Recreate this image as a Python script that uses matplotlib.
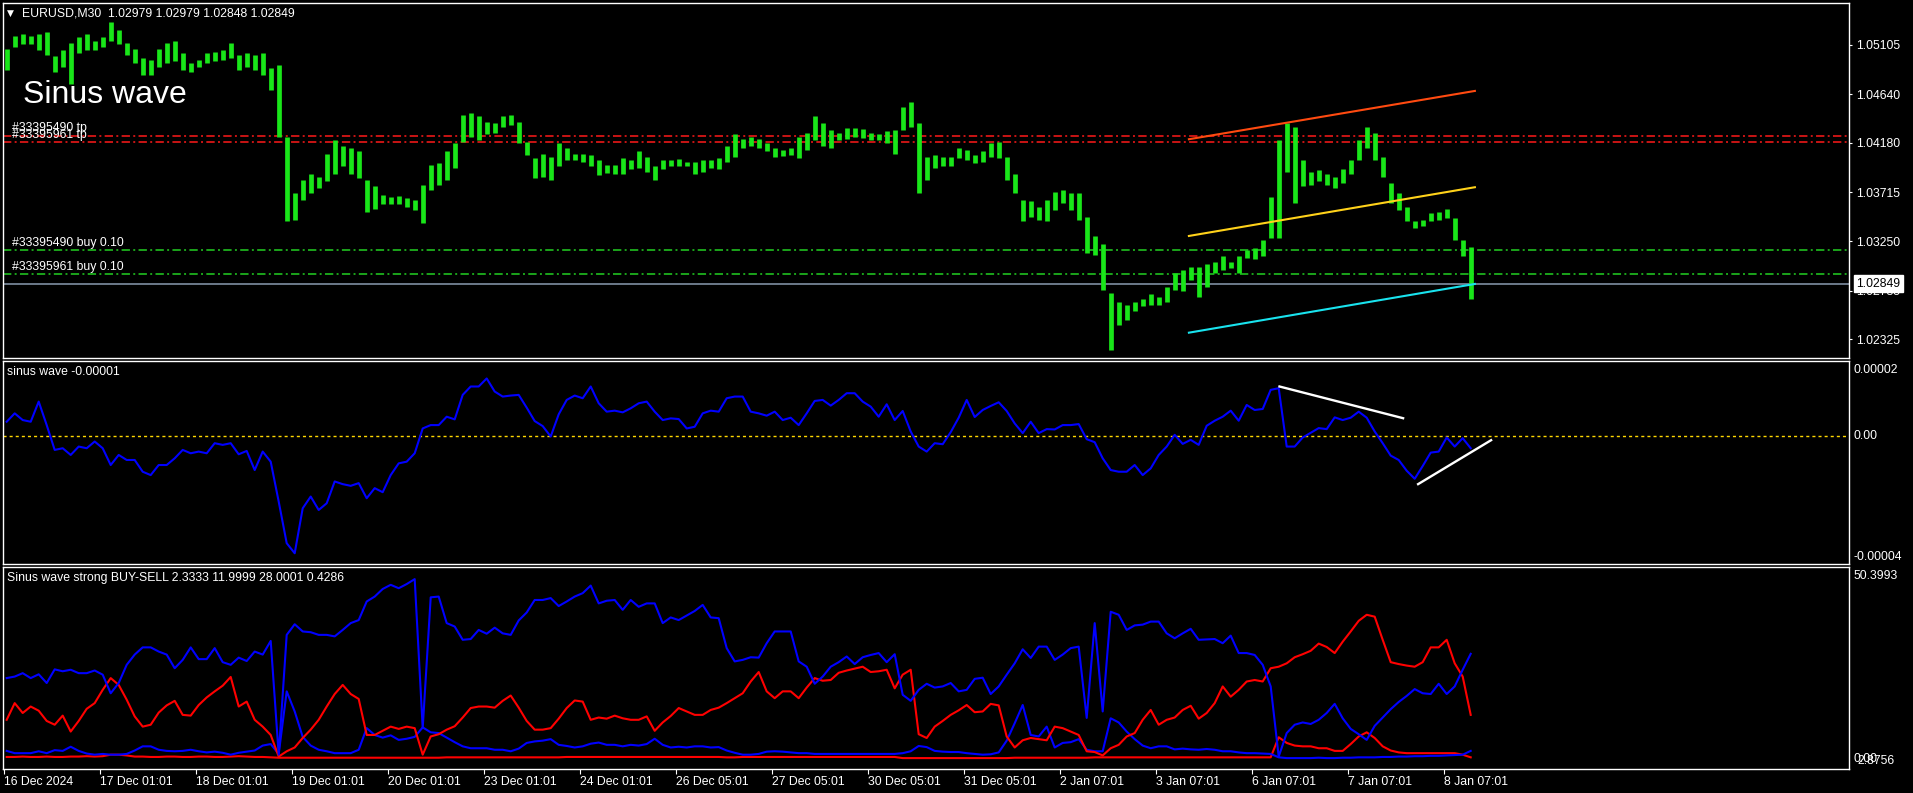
import numpy as np
import matplotlib
matplotlib.use("Agg")
import matplotlib.pyplot as plt
from matplotlib.transforms import blended_transform_factory

plt.rcParams['font.family'] = ['Liberation Sans', 'DejaVu Sans']
plt.rcParams['lines.scale_dashes'] = False

# ---------------- data ----------------
BAR_STEP = 4          # M30 bars per stored sample
BARS_PER_LABEL = 48   # one date label per trading day

DATE_LABELS = ["16 Dec 2024", "17 Dec 01:01", "18 Dec 01:01", "19 Dec 01:01", "20 Dec 01:01",
               "23 Dec 01:01", "24 Dec 01:01", "26 Dec 05:01", "27 Dec 05:01", "30 Dec 05:01",
               "31 Dec 05:01", "2 Jan 07:01", "3 Jan 07:01", "6 Jan 07:01", "7 Jan 07:01", "8 Jan 07:01"]

PRICE_TICKS = [1.05105, 1.04640, 1.04180, 1.03715, 1.03250, 1.02785, 1.02325]

HIGH = [
 1.0507, 1.0519, 1.0521, 1.0519, 1.0521, 1.0523, 1.0500, 1.0506, 1.0512, 1.0518,
 1.0521, 1.0514, 1.0518, 1.0532, 1.0525, 1.0512, 1.0507, 1.0498, 1.0496, 1.0507,
 1.0512, 1.0514, 1.0503, 1.0493, 1.0496, 1.0503, 1.0504, 1.0506, 1.0512, 1.0501,
 1.0503, 1.0501, 1.0503, 1.0489, 1.0492, 1.0424, 1.0371, 1.0383, 1.0389, 1.0386,
 1.0408, 1.0421, 1.0415, 1.0413, 1.0410, 1.0383, 1.0377, 1.0369, 1.0367, 1.0368,
 1.0366, 1.0364, 1.0378, 1.0397, 1.0399, 1.0410, 1.0418, 1.0444, 1.0446, 1.0443,
 1.0438, 1.0437, 1.0443, 1.0444, 1.0438, 1.0419, 1.0404, 1.0408, 1.0405, 1.0418,
 1.0413, 1.0408, 1.0408, 1.0407, 1.0402, 1.0397, 1.0397, 1.0404, 1.0402, 1.0410,
 1.0405, 1.0396, 1.0402, 1.0402, 1.0403, 1.0400, 1.0400, 1.0402, 1.0402, 1.0404,
 1.0415, 1.0426, 1.0422, 1.0424, 1.0422, 1.0418, 1.0413, 1.0411, 1.0413, 1.0424,
 1.0427, 1.0443, 1.0437, 1.0430, 1.0427, 1.0432, 1.0432, 1.0431, 1.0427, 1.0426,
 1.0429, 1.0430, 1.0452, 1.0457, 1.0437, 1.0405, 1.0407, 1.0405, 1.0405, 1.0413,
 1.0411, 1.0407, 1.0410, 1.0418, 1.0419, 1.0405, 1.0389, 1.0364, 1.0363, 1.0358,
 1.0364, 1.0372, 1.0374, 1.0371, 1.0371, 1.0348, 1.0330, 1.0323, 1.0276, 1.0268,
 1.0265, 1.0268, 1.0271, 1.0275, 1.0273, 1.0282, 1.0295, 1.0298, 1.0301, 1.0301,
 1.0304, 1.0306, 1.0311, 1.0306, 1.0311, 1.0317, 1.0319, 1.0326, 1.0367, 1.0421,
 1.0437, 1.0433, 1.0402, 1.0391, 1.0392, 1.0389, 1.0386, 1.0393, 1.0402, 1.0421,
 1.0433, 1.0427, 1.0405, 1.0380, 1.0371, 1.0358, 1.0344, 1.0345, 1.0352, 1.0353,
 1.0356, 1.0347, 1.0326, 1.0320]

LOW = [
 1.0487, 1.0509, 1.0511, 1.0511, 1.0506, 1.0501, 1.0485, 1.0490, 1.0474, 1.0503,
 1.0506, 1.0506, 1.0509, 1.0514, 1.0511, 1.0501, 1.0493, 1.0482, 1.0482, 1.0490,
 1.0493, 1.0495, 1.0487, 1.0485, 1.0490, 1.0493, 1.0495, 1.0496, 1.0498, 1.0487,
 1.0490, 1.0487, 1.0482, 1.0468, 1.0424, 1.0344, 1.0345, 1.0364, 1.0371, 1.0375,
 1.0382, 1.0389, 1.0396, 1.0389, 1.0385, 1.0353, 1.0356, 1.0360, 1.0360, 1.0360,
 1.0358, 1.0355, 1.0342, 1.0374, 1.0378, 1.0383, 1.0394, 1.0419, 1.0424, 1.0421,
 1.0426, 1.0427, 1.0433, 1.0435, 1.0418, 1.0407, 1.0385, 1.0386, 1.0383, 1.0396,
 1.0402, 1.0402, 1.0400, 1.0396, 1.0388, 1.0390, 1.0389, 1.0389, 1.0393, 1.0394,
 1.0391, 1.0383, 1.0393, 1.0396, 1.0396, 1.0396, 1.0389, 1.0391, 1.0394, 1.0393,
 1.0400, 1.0405, 1.0413, 1.0415, 1.0413, 1.0410, 1.0405, 1.0406, 1.0407, 1.0404,
 1.0411, 1.0421, 1.0415, 1.0413, 1.0421, 1.0422, 1.0424, 1.0423, 1.0421, 1.0421,
 1.0418, 1.0408, 1.0430, 1.0433, 1.0371, 1.0383, 1.0394, 1.0396, 1.0396, 1.0404,
 1.0402, 1.0399, 1.0400, 1.0405, 1.0404, 1.0383, 1.0371, 1.0344, 1.0348, 1.0345,
 1.0344, 1.0355, 1.0361, 1.0355, 1.0345, 1.0314, 1.0312, 1.0279, 1.0223, 1.0246,
 1.0251, 1.0259, 1.0264, 1.0265, 1.0265, 1.0268, 1.0279, 1.0278, 1.0289, 1.0273,
 1.0282, 1.0295, 1.0298, 1.0300, 1.0295, 1.0309, 1.0308, 1.0311, 1.0328, 1.0328,
 1.0391, 1.0361, 1.0377, 1.0378, 1.0382, 1.0378, 1.0375, 1.0380, 1.0389, 1.0402,
 1.0413, 1.0402, 1.0386, 1.0361, 1.0355, 1.0344, 1.0338, 1.0340, 1.0344, 1.0345,
 1.0347, 1.0326, 1.0311, 1.0271]

BID = 1.02849
TP_LEVELS = [1.04249, 1.04186]
TP_LABELS = ["#33395490 tp", "#33395961 tp"]
BUY_LEVELS = [1.03167, 1.02940]
BUY_LABELS = ["#33395490 buy 0.10", "#33395961 buy 0.10"]

CHANNEL_BARS = [592.6, 735.6]
CHANNEL_TOP = [1.04215, 1.04671]
CHANNEL_MID = [1.03302, 1.03762]
CHANNEL_LOW = [1.02389, 1.02849]

# sinus wave (units of 1e-6)
SINUS = [
 4.4, 6.9, 4.9, 4.4, 10.4, 3.4, -4.0, -3.5, -5.5, -3.0,
 -3.5, -1.5, -3.5, -8.5, -5.5, -7.0, -7.0, -10.5, -11.5, -8.5,
 -8.5, -6.5, -4.0, -5.0, -4.5, -5.0, -2.0, -2.5, -2.0, -5.3,
 -4.3, -10.0, -4.5, -7.5, -19.4, -31.8, -34.8, -21.4, -17.9, -21.9,
 -19.9, -13.4, -14.2, -14.7, -13.9, -18.4, -15.4, -16.6, -11.5, -8.0,
 -7.5, -5.0, 2.4, 3.4, 3.4, 5.9, 5.1, 12.4, 14.9, 14.9,
 17.3, 13.4, 11.9, 12.2, 12.4, 8.6, 4.6, 3.1, 0.0, 6.6,
 10.9, 12.2, 11.4, 14.9, 9.9, 7.4, 7.7, 7.2, 8.4, 9.9,
 10.4, 7.4, 4.9, 5.4, 5.2, 2.4, 2.9, 6.9, 7.7, 7.4,
 11.4, 11.9, 11.9, 7.4, 6.9, 6.2, 7.4, 4.9, 5.6, 3.4,
 6.9, 10.6, 10.9, 9.2, 10.9, 12.9, 12.9, 10.4, 8.9, 5.9,
 9.6, 4.9, 7.6, 1.5, -3.0, -4.5, -2.0, -2.3, 1.3, 5.6,
 10.9, 5.8, 7.9, 9.1, 10.2, 7.6, 3.9, 1.0, 4.4, 1.0,
 2.2, 2.1, 3.4, 3.4, 3.7, -0.8, -1.7, -6.5, -10.0, -10.5,
 -10.5, -8.5, -11.5, -9.5, -5.5, -3.0, 0.5, -2.2, -1.0, -2.5,
 3.2, 4.7, 5.9, 7.7, 4.7, 9.4, 7.9, 8.2, 13.9, 14.4,
 -3.0, -3.0, -0.3, 1.1, 2.5, 2.2, 5.7, 4.9, 5.6, 7.4,
 5.6, 1.5, -2.0, -5.7, -7.0, -10.2, -12.6, -8.8, -4.8, -4.5,
 -0.3, -3.0, -0.5, -3.5]
SINUS_LIMITS = [-38.0, 22.5]
TREND1_BARS = [637.9, 699.7]
TREND1_VALS = [14.9, 5.45]
TREND2_BARS = [707.2, 743.7]
TREND2_VALS = [-14.2, -1.1]

# Sinus wave strong BUY-SELL
BLUE_HI = [
 21.1, 21.5, 22.4, 21.1, 22.1, 19.8, 23.4, 22.9, 23.3, 22.4,
 22.4, 23.1, 22.0, 17.1, 19.8, 24.6, 27.3, 29.2, 29.2, 28.1,
 27.3, 23.7, 25.9, 29.2, 26.1, 26.1, 29.0, 25.3, 24.6, 26.5,
 25.6, 28.1, 27.3, 30.9, 0.9, 32.5, 35.3, 33.4, 33.2, 32.5,
 32.5, 32.1, 33.8, 35.6, 36.4, 41.3, 42.6, 44.6, 45.7, 44.8,
 45.9, 47.2, 7.9, 42.4, 42.6, 35.6, 34.7, 31.2, 31.4, 33.8,
 32.8, 34.4, 32.9, 32.5, 36.3, 38.4, 41.7, 41.7, 42.2, 40.1,
 41.3, 42.6, 43.5, 45.5, 40.8, 41.5, 41.7, 39.1, 41.7, 39.9,
 40.8, 40.8, 35.6, 37.1, 36.4, 37.6, 38.8, 40.4, 37.1, 36.9,
 29.0, 25.5, 25.9, 26.6, 26.5, 30.3, 33.4, 33.4, 33.4, 25.5,
 24.1, 19.6, 21.5, 24.1, 25.3, 26.8, 24.8, 26.6, 27.2, 27.7,
 25.3, 27.4, 16.7, 15.1, 18.0, 19.6, 18.6, 18.9, 19.8, 17.6,
 18.0, 20.9, 21.2, 16.9, 18.9, 22.0, 25.0, 28.7, 26.4, 29.4,
 29.4, 25.9, 27.3, 29.0, 29.4, 10.6, 35.6, 12.3, 38.6, 37.8,
 33.8, 35.0, 35.2, 36.0, 36.0, 32.9, 31.6, 32.9, 34.1, 31.2,
 31.3, 31.4, 30.3, 32.3, 27.7, 27.7, 27.2, 24.6, 18.9, 0.4,
 6.6, 8.8, 9.4, 9.0, 10.1, 11.9, 14.3, 10.5, 7.7, 6.3,
 4.8, 8.5, 10.7, 12.9, 14.8, 16.4, 18.2, 17.1, 16.9, 19.6,
 16.9, 18.9, 23.3, 27.5]

RED_HI = [
 10.1, 14.5, 11.9, 13.6, 12.5, 9.8, 8.8, 11.2, 7.0, 9.8,
 13.0, 14.5, 18.0, 21.1, 19.3, 15.4, 11.0, 8.3, 8.8, 12.0,
 13.9, 15.1, 11.4, 11.2, 14.0, 16.0, 17.6, 19.1, 21.4, 13.6,
 14.9, 10.1, 8.3, 6.1, 0.4, 1.8, 2.8, 5.3, 7.5, 10.1,
 13.6, 16.9, 19.3, 16.9, 15.6, 6.1, 6.1, 7.2, 8.3, 7.7,
 8.3, 7.9, 0.9, 5.7, 6.3, 7.5, 8.4, 10.7, 13.2, 13.6,
 13.6, 13.3, 15.1, 16.5, 13.3, 9.8, 7.5, 7.5, 7.9, 10.4,
 13.2, 15.2, 14.9, 10.1, 10.7, 10.4, 11.2, 10.5, 10.1, 10.1,
 11.0, 7.2, 9.4, 11.1, 13.2, 12.3, 11.4, 11.4, 12.7, 13.3,
 14.5, 15.8, 17.1, 20.2, 22.7, 17.6, 15.8, 17.6, 17.6, 15.8,
 18.6, 21.1, 20.4, 20.6, 22.5, 23.1, 23.6, 24.1, 22.7, 22.9,
 23.3, 18.4, 22.0, 23.3, 6.3, 5.3, 8.3, 9.8, 11.4, 12.6,
 14.0, 12.1, 12.3, 14.3, 13.9, 5.7, 2.8, 4.7, 5.3, 5.0,
 4.7, 8.3, 7.9, 7.0, 6.1, 1.8, 1.6, 0.7, 2.6, 3.5,
 5.7, 6.6, 10.1, 12.7, 8.8, 10.1, 10.7, 12.7, 13.8, 10.4,
 11.9, 14.5, 18.9, 16.2, 18.0, 20.2, 20.6, 20.2, 23.7, 24.1,
 25.0, 26.6, 27.4, 28.3, 30.2, 29.3, 27.7, 30.7, 33.4, 36.2,
 37.8, 37.3, 31.2, 25.3, 24.8, 24.4, 24.1, 25.3, 29.2, 29.2,
 31.2, 25.0, 21.5, 11.4]

BLUE_LO = [
 1.9, 1.3, 1.3, 1.3, 1.8, 1.3, 2.1, 1.9, 3.0, 1.9,
 1.2, 0.9, 1.1, 0.9, 0.9, 1.1, 2.0, 3.1, 3.1, 2.2,
 1.9, 1.8, 1.9, 2.2, 1.8, 1.5, 1.7, 1.4, 0.9, 1.4,
 1.7, 2.0, 3.3, 3.7, 1.1, 17.6, 12.3, 5.6, 3.3, 2.2,
 1.8, 1.3, 1.3, 1.3, 2.2, 7.9, 6.1, 5.4, 6.0, 4.8,
 5.1, 5.6, 8.1, 6.8, 6.6, 5.4, 4.2, 3.1, 2.6, 2.6,
 2.6, 2.2, 2.2, 1.8, 2.5, 4.0, 4.4, 4.6, 5.0, 3.5,
 3.2, 2.8, 3.1, 3.8, 4.1, 3.5, 3.5, 3.1, 3.5, 3.3,
 3.7, 5.1, 3.5, 2.8, 3.0, 2.8, 3.1, 3.1, 2.8, 2.9,
 2.0, 1.4, 0.9, 0.9, 1.1, 1.7, 1.8, 1.7, 1.5, 1.3,
 1.3, 1.1, 1.1, 1.1, 1.1, 1.1, 1.1, 1.1, 1.1, 1.1,
 1.1, 1.1, 1.3, 1.8, 3.2, 2.9, 1.9, 1.7, 1.6, 1.6,
 1.3, 1.1, 0.9, 1.0, 1.5, 4.6, 9.2, 14.0, 6.1, 5.7,
 8.3, 2.8, 4.0, 4.2, 5.0, 2.2, 1.8, 1.8, 10.5, 9.4,
 7.0, 5.0, 3.3, 2.6, 3.1, 3.1, 2.3, 2.5, 2.3, 2.2,
 2.4, 2.2, 1.8, 1.8, 1.5, 1.3, 1.3, 1.2, 1.1, 0.2,
 0.0, 0.0, 0.0, 0.0, 0.1, 0.0, 0.0, 0.1, 0.1, 0.2,
 0.2, 0.2, 0.3, 0.3, 0.4, 0.4, 0.5, 0.5, 0.6, 0.6,
 0.7, 0.8, 0.9, 1.9]

RED_LO = [
 0.3, 0.3, 0.4, 0.3, 0.3, 0.4, 0.3, 0.3, 0.4, 0.4,
 0.5, 0.4, 0.5, 0.9, 0.9, 0.7, 0.4, 0.4, 0.3, 0.3,
 0.4, 0.4, 0.3, 0.3, 0.4, 0.4, 0.3, 0.3, 0.4, 0.5,
 0.4, 0.3, 0.3, 0.2, 0.1, 0.1, 0.1, 0.1, 0.1, 0.1,
 0.1, 0.1, 0.1, 0.1, 0.1, 0.1, 0.1, 0.1, 0.1, 0.1,
 0.1, 0.1, 0.1, 0.1, 0.1, 0.2, 0.2, 0.2, 0.2, 0.2,
 0.2, 0.2, 0.2, 0.2, 0.2, 0.2, 0.2, 0.2, 0.2, 0.2,
 0.3, 0.3, 0.3, 0.3, 0.3, 0.3, 0.3, 0.3, 0.3, 0.3,
 0.3, 0.3, 0.3, 0.3, 0.3, 0.3, 0.3, 0.3, 0.3, 0.3,
 0.2, 0.2, 0.3, 0.3, 0.3, 0.3, 0.3, 0.3, 0.3, 0.3,
 0.3, 0.3, 0.3, 0.3, 0.3, 0.3, 0.3, 0.3, 0.3, 0.3,
 0.3, 0.3, 0.0, 0.0, 0.0, 0.0, 0.0, 0.0, 0.0, 0.0,
 0.0, 0.0, 0.0, 0.0, 0.0, 0.0, 0.1, 0.1, 0.1, 0.1,
 0.1, 0.1, 0.1, 0.1, 0.1, 0.1, 0.2, 0.2, 0.2, 0.2,
 0.2, 0.2, 0.2, 0.2, 0.2, 0.2, 0.2, 0.2, 0.2, 0.2,
 0.2, 0.2, 0.2, 0.2, 0.2, 0.2, 0.2, 0.2, 0.2, 5.5,
 4.0, 3.3, 3.1, 3.1, 2.6, 2.6, 1.9, 1.9, 3.7, 5.7,
 6.8, 5.3, 3.1, 2.0, 1.5, 1.3, 1.3, 1.3, 1.3, 1.3,
 1.3, 1.3, 0.9, 0.2]
STRONG_LIMITS = [-2.8756, 50.3993]

# ---------------- layout ----------------
W, H = 1913, 793
fig = plt.figure(figsize=(W / 100, H / 100), dpi=100, facecolor='black')
FS = 8.85
WHITE = 'white'


def box(x0, y0, x1, y1):
    return [x0 / W, 1 - y1 / H, (x1 - x0) / W, (y1 - y0) / H]


def fpos(x, y):
    return x / W, 1 - y / H


ax1 = fig.add_axes(box(3, 3, 1849, 358))
ax2 = fig.add_axes(box(3, 361, 1849, 564), sharex=ax1)
ax3 = fig.add_axes(box(3, 567, 1849, 769), sharex=ax1)
for ax in (ax1, ax2, ax3):
    ax.set_facecolor('black')
    for s in ax.spines.values():
        s.set_color(WHITE)
        s.set_linewidth(1.0)
    ax.tick_params(axis='x', which='both', bottom=False, labelbottom=False)
    ax.tick_params(axis='y', which='both', left=False, labelleft=False, right=False, labelright=False)

ax1.set_xlim(-0.35, 922.65)

# ---------------- price panel ----------------
xb = BAR_STEP * np.arange(len(HIGH)) + 1.5
ax1.vlines(xb, LOW, HIGH, color='#19e619', linewidth=3.4, zorder=3)
ax1.set_ylim(1.02150, 1.05501)

blend1 = blended_transform_factory(ax1.transAxes, ax1.transData)
for lvl, lab in zip(TP_LEVELS, TP_LABELS):
    ax1.axhline(lvl, color='#ff1a1a', linewidth=1.1, dashes=(6.0, 2.4, 1.4, 2.4), zorder=2)
    ax1.annotate(lab, xy=(0, lvl), xycoords=blend1, xytext=(6.5, 1.2), textcoords='offset points',
                 color=WHITE, fontsize=FS, va='bottom', ha='left', zorder=4)
for lvl, lab in zip(BUY_LEVELS, BUY_LABELS):
    ax1.axhline(lvl, color='#22d022', linewidth=1.1, dashes=(6.0, 2.4, 1.4, 2.4), zorder=2)
    ax1.annotate(lab, xy=(0, lvl), xycoords=blend1, xytext=(6.5, 1.2), textcoords='offset points',
                 color=WHITE, fontsize=FS, va='bottom', ha='left', zorder=4)
ax1.axhline(BID, color='#8a9bb0', linewidth=1.1, zorder=2)

ax1.plot(CHANNEL_BARS, CHANNEL_TOP, color='#ff4a10', linewidth=1.5, zorder=5)
ax1.plot(CHANNEL_BARS, CHANNEL_MID, color='#ffd21a', linewidth=1.5, zorder=5)
ax1.plot(CHANNEL_BARS, CHANNEL_LOW, color='#19e3ee', linewidth=1.5, zorder=5)

ax1.yaxis.tick_right()
ax1.set_yticks(PRICE_TICKS)
ax1.set_yticklabels([f"{v:.5f}" for v in PRICE_TICKS])
ax1.tick_params(axis='y', which='both', right=True, labelright=True, colors=WHITE,
                length=2.5, width=0.8, pad=2.5, labelsize=FS)
ax1.annotate(f"{BID:.5f}", xy=(1, BID), xycoords=blend1, xytext=(5.2, 0), textcoords='offset points',
             color='black', fontsize=FS, va='center', ha='left', annotation_clip=False, zorder=20,
             bbox=dict(boxstyle='square,pad=0.2', facecolor=WHITE, edgecolor=WHITE))

# ---------------- sinus wave panel ----------------
xs = BAR_STEP * np.arange(len(SINUS)) + 1.5
ax2.axhline(0, color='#ffd700', linewidth=1.0, dashes=(2.2, 2.2), zorder=1)
ax2.plot(xs, SINUS, color='#0000ff', linewidth=1.5, zorder=3)
ax2.plot(TREND1_BARS, TREND1_VALS, color=WHITE, linewidth=1.7, zorder=4)
ax2.plot(TREND2_BARS, TREND2_VALS, color=WHITE, linewidth=1.7, zorder=4)
ax2.set_ylim(*SINUS_LIMITS)

# ---------------- strong BUY-SELL panel ----------------
xa = BAR_STEP * np.arange(len(BLUE_HI)) + 1.5
ax3.plot(BAR_STEP * np.arange(len(RED_LO)) + 1.5, RED_LO, color='#ff0000', linewidth=1.5, zorder=2)
ax3.plot(BAR_STEP * np.arange(len(BLUE_LO)) + 1.5, BLUE_LO, color='#0000ff', linewidth=1.5, zorder=3)
ax3.plot(BAR_STEP * np.arange(len(RED_HI)) + 1.5, RED_HI, color='#ff0000', linewidth=1.5, zorder=3)
ax3.plot(xa, BLUE_HI, color='#0000ff', linewidth=1.5, zorder=4)
ax3.set_ylim(*STRONG_LIMITS)

ticks = BARS_PER_LABEL * np.arange(len(DATE_LABELS))
ax3.set_xticks(ticks)
ax3.set_xticklabels(DATE_LABELS)
ax3.tick_params(axis='x', which='both', bottom=True, labelbottom=True, colors=WHITE,
                length=3.5, width=0.8, pad=1.5, labelsize=FS, direction='out')
for t in ax3.get_xticklabels():
    t.set_horizontalalignment('left')

# ---------------- texts ----------------
fig.text(*fpos(7, 15.5), "\u25BC", color=WHITE, fontsize=6.5, va='baseline', ha='left',
         family=['DejaVu Sans'])
fig.text(*fpos(22, 17), "EURUSD,M30  1.02979 1.02979 1.02848 1.02849", color=WHITE,
         fontsize=FS, va='baseline', ha='left')
fig.text(*fpos(23, 103), "Sinus wave", color=WHITE, fontsize=23, va='baseline', ha='left')

fig.text(*fpos(7, 375.5), "sinus wave -0.00001", color=WHITE, fontsize=FS, va='baseline', ha='left')
fig.text(*fpos(7, 581.5), "Sinus wave strong BUY-SELL 2.3333 11.9999 28.0001 0.4286", color=WHITE,
         fontsize=FS, va='baseline', ha='left')

for txt, y, x in [("0.00002", 370, 1853), ("0.00", 436.3, 1853), ("-0.00004", 556.7, 1853),
                  ("50.3993", 576, 1853), ("0.00", 759, 1853), ("2.8756", 761.5, 1857)]:
    fig.text(*fpos(x, y), txt, color=WHITE, fontsize=FS, va='center', ha='left')

fig.savefig("out.png", dpi=100, facecolor='black')
